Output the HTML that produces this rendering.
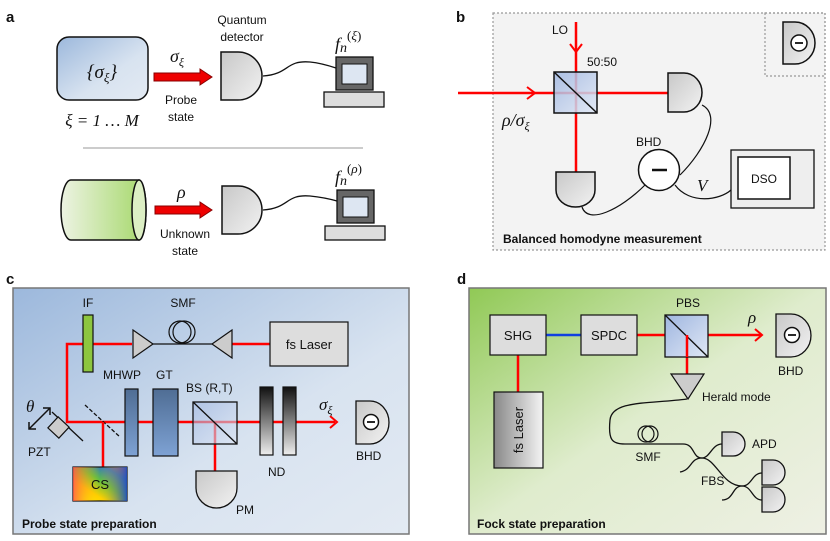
<!DOCTYPE html>
<html><head><meta charset="utf-8"><style>
html,body{margin:0;padding:0;background:#fff}
svg{display:block}
text{font-family:"Liberation Sans",sans-serif;fill:#111}
.m{font-family:"Liberation Serif",serif;font-style:italic}
.b{font-weight:bold}
</style></head><body>
<svg width="830" height="541" viewBox="0 0 830 541" xmlns="http://www.w3.org/2000/svg">
<defs>
<linearGradient id="gb" x1="0" y1="0" x2="1" y2="1"><stop offset="0" stop-color="#9cb8dc"/><stop offset="0.6" stop-color="#d8e3f0"/><stop offset="1" stop-color="#e3eaf3"/></linearGradient>
<linearGradient id="gg" x1="0" y1="0" x2="1" y2="1"><stop offset="0" stop-color="#90c955"/><stop offset="0.5" stop-color="#dfeccd"/><stop offset="1" stop-color="#eef0e4"/></linearGradient>
<linearGradient id="gc" x1="0" y1="0" x2="1" y2="0"><stop offset="0" stop-color="#edf3e3"/><stop offset="1" stop-color="#a5d86a"/></linearGradient>
<linearGradient id="gray" x1="0" y1="0" x2="1" y2="1"><stop offset="0" stop-color="#c8c8c8"/><stop offset="1" stop-color="#f2f2f2"/></linearGradient>
<linearGradient id="cube" x1="0" y1="0" x2="1" y2="1"><stop offset="0" stop-color="#9fb6e0"/><stop offset="1" stop-color="#dfe7f5"/></linearGradient>
<linearGradient id="nd" x1="0" y1="0" x2="0" y2="1"><stop offset="0" stop-color="#111"/><stop offset="1" stop-color="#eee"/></linearGradient>
<linearGradient id="wp" x1="0" y1="0" x2="0" y2="1"><stop offset="0" stop-color="#4f6d94"/><stop offset="1" stop-color="#7ea2d4"/></linearGradient>
<linearGradient id="lz" x1="0" y1="0" x2="1" y2="0"><stop offset="0" stop-color="#888"/><stop offset="1" stop-color="#f4f4f4"/></linearGradient>
<linearGradient id="rb" x1="0" y1="1" x2="1" y2="0"><stop offset="0" stop-color="#ffff00"/><stop offset="0.3" stop-color="#ffd000"/><stop offset="0.55" stop-color="#60c040"/><stop offset="0.8" stop-color="#3070d0"/><stop offset="1" stop-color="#e04080"/></linearGradient>
<linearGradient id="rb2" x1="0" y1="0" x2="1" y2="0"><stop offset="0" stop-color="#ff5050" stop-opacity=".8"/><stop offset="0.5" stop-color="#ffcc00" stop-opacity="0"/><stop offset="1" stop-color="#2050c0" stop-opacity=".9"/></linearGradient>
</defs>

<!-- Panel a -->
<text x="6" y="22" class="b" font-size="15">a</text>
<rect x="57" y="37" width="91" height="63" rx="12" fill="url(#gb)" stroke="#111" stroke-width="1.5"/>
<text x="102" y="78" text-anchor="middle" class="m" font-size="19">{σ<tspan font-size="13" dy="4">ξ</tspan><tspan dy="-4">}</tspan></text>
<text x="102" y="126" text-anchor="middle" class="m" font-size="17">ξ = 1 … M</text>
<polygon points="154,73 200,73 200,69 212,77 200,85 200,81 154,81" fill="#e00" stroke="#800" stroke-width="1"/>
<text x="170" y="62" class="m" font-size="18">σ<tspan font-size="12" dy="4">ξ</tspan></text>
<text x="181" y="104" text-anchor="middle" font-size="12">Probe</text>
<text x="181" y="121" text-anchor="middle" font-size="12">state</text>
<path d="M221,52 H238 A24,24 0 0 1 238,100 H221 Z" fill="url(#gray)" stroke="#111" stroke-width="1.5"/>
<text x="242" y="24" text-anchor="middle" font-size="12">Quantum</text>
<text x="242" y="41" text-anchor="middle" font-size="12">detector</text>
<path d="M263,76 C290,74 285,60 310,62 C320,63 330,66 336,68" fill="none" stroke="#111" stroke-width="1.3"/>
<rect x="336" y="57" width="37" height="33" fill="#666" stroke="#111" stroke-width="1.3"/>
<rect x="342" y="64" width="25" height="20" fill="#dde6f2" stroke="#111" stroke-width="1"/>
<rect x="324" y="92" width="60" height="15" fill="#ddd" stroke="#111" stroke-width="1.3"/>
<text x="335" y="50" class="m" font-size="18">f<tspan font-size="14" dy="2">n</tspan><tspan font-size="13" dy="-12" font-style="normal">(</tspan><tspan font-size="13">ξ</tspan><tspan font-size="13" font-style="normal">)</tspan></text>
<line x1="83" y1="148" x2="363" y2="148" stroke="#bbb" stroke-width="1.5"/>
<path d="M71,180 H139 A7,30 0 0 1 139,240 H71 A10,30 0 0 1 71,180 Z" fill="url(#gc)" stroke="#111" stroke-width="1.5"/>
<ellipse cx="139" cy="210" rx="7" ry="30" fill="#dcefc4" stroke="#111" stroke-width="1.5"/>
<polygon points="155,206 200,206 200,202 212,210 200,218 200,214 155,214" fill="#e00" stroke="#800" stroke-width="1"/>
<text x="177" y="198" class="m" font-size="18">ρ</text>
<text x="185" y="238" text-anchor="middle" font-size="12">Unknown</text>
<text x="185" y="255" text-anchor="middle" font-size="12">state</text>
<path d="M222,186 H238 A24,24 0 0 1 238,234 H222 Z" fill="url(#gray)" stroke="#111" stroke-width="1.5"/>
<path d="M263,210 C290,208 285,194 310,196 C320,197 330,199 337,201" fill="none" stroke="#111" stroke-width="1.3"/>
<rect x="337" y="190" width="37" height="33" fill="#666" stroke="#111" stroke-width="1.3"/>
<rect x="343" y="197" width="25" height="20" fill="#dde6f2" stroke="#111" stroke-width="1"/>
<rect x="325" y="226" width="60" height="14" fill="#ddd" stroke="#111" stroke-width="1.3"/>
<text x="335" y="183" class="m" font-size="18">f<tspan font-size="14" dy="2">n</tspan><tspan font-size="13" dy="-12" font-style="normal">(</tspan><tspan font-size="13">ρ</tspan><tspan font-size="13" font-style="normal">)</tspan></text>

<!-- Panel b -->
<text x="456" y="22" class="b" font-size="15">b</text>
<rect x="493" y="13" width="332" height="237" fill="#f3f3f3" stroke="#999" stroke-width="1.2" stroke-dasharray="2,2"/>
<rect x="765" y="13" width="60" height="63" fill="none" stroke="#999" stroke-width="1.2" stroke-dasharray="2,2"/>
<path d="M783,22 H795 A20,21 0 0 1 795,64 H783 Z" fill="url(#gray)" stroke="#111" stroke-width="1.5"/>
<circle cx="799" cy="43" r="8" fill="#fff" stroke="#111" stroke-width="1.5"/>
<line x1="795" y1="43" x2="803" y2="43" stroke="#111" stroke-width="1.8"/>
<line x1="458" y1="93" x2="668" y2="93" stroke="#f00" stroke-width="2.5"/>
<polyline points="527,87 535,93 527,99" fill="none" stroke="#f00" stroke-width="2"/>
<line x1="576" y1="22" x2="576" y2="172" stroke="#f00" stroke-width="2.5"/>
<polyline points="570,44 576,52 582,44" fill="none" stroke="#f00" stroke-width="2"/>
<rect x="554" y="72" width="43" height="41" fill="url(#cube)" stroke="#111" stroke-width="1.5" fill-opacity=".85"/>
<line x1="554" y1="72" x2="597" y2="113" stroke="#111" stroke-width="1.5"/>
<text x="552" y="34" font-size="12">LO</text>
<text x="587" y="66" font-size="12">50:50</text>
<text x="502" y="126" class="m" font-size="18">ρ/σ<tspan font-size="12" dy="4">ξ</tspan></text>
<path d="M668,73 H684 A18,19.5 0 0 1 684,112 H668 Z" fill="url(#gray)" stroke="#111" stroke-width="1.5"/>
<path d="M556,172 V190 A19.5,17 0 0 0 595,190 V172 Z" fill="url(#gray)" stroke="#111" stroke-width="1.5"/>
<path d="M702,105 C722,115 705,150 680,175" fill="none" stroke="#111" stroke-width="1.2"/>
<path d="M582,207 C588,225 620,210 645,185" fill="none" stroke="#111" stroke-width="1.2"/>
<path d="M675,185 C690,205 720,200 731,190" fill="none" stroke="#111" stroke-width="1.2"/>
<circle cx="659" cy="170" r="20.5" fill="#fff" stroke="#111" stroke-width="1.5"/>
<line x1="652" y1="170" x2="667" y2="170" stroke="#111" stroke-width="2.5"/>
<text x="636" y="146" font-size="12">BHD</text>
<text x="697" y="191" class="m" font-size="17">V</text>
<rect x="731" y="150" width="83" height="58" fill="#eee" stroke="#111" stroke-width="1.3"/>
<rect x="738" y="157" width="52" height="42" fill="#fff" stroke="#111" stroke-width="1.5"/>
<text x="764" y="183" text-anchor="middle" font-size="12">DSO</text>
<text x="503" y="243" class="b" font-size="12">Balanced homodyne measurement</text>

<!-- Panel c -->
<text x="6" y="284" class="b" font-size="15">c</text>
<rect x="13" y="288" width="396" height="246" fill="url(#gb)" stroke="#777" stroke-width="1.5"/>
<polyline points="132,344 67,344 67,422 335,422" fill="none" stroke="#f00" stroke-width="2.5"/>
<polyline points="330,416 337,422 330,428" fill="none" stroke="#f00" stroke-width="2"/>
<line x1="232" y1="344" x2="270" y2="344" stroke="#f00" stroke-width="2.5"/>
<rect x="83" y="315" width="10" height="57" fill="#8dc63f" stroke="#111" stroke-width="1.2"/>
<text x="88" y="307" text-anchor="middle" font-size="12">IF</text>
<line x1="152" y1="344" x2="212" y2="344" stroke="#111" stroke-width="1.2"/>
<circle cx="180" cy="332" r="11" fill="none" stroke="#111" stroke-width="1.2"/>
<circle cx="184" cy="332" r="11" fill="none" stroke="#111" stroke-width="1.2"/>
<polygon points="133,330 153,344 133,358" fill="#ccc" stroke="#111" stroke-width="1.2"/>
<polygon points="232,330 212,344 232,358" fill="#ccc" stroke="#111" stroke-width="1.2"/>
<text x="183" y="307" text-anchor="middle" font-size="12">SMF</text>
<rect x="270" y="322" width="78" height="44" fill="url(#lz)" stroke="#111" stroke-width="1.2" style="fill:#ddd"/>
<text x="309" y="349" text-anchor="middle" font-size="13">fs Laser</text>
<line x1="52" y1="412" x2="83" y2="441" stroke="#111" stroke-width="1.3"/>
<rect x="51" y="420" width="15" height="15" fill="#ccc" stroke="#111" stroke-width="1.2" transform="rotate(43 58.5 427.5)"/>
<line x1="29" y1="429" x2="50" y2="408" stroke="#111" stroke-width="1.5"/>
<polyline points="29,422 29,429 36,429" fill="none" stroke="#111" stroke-width="1.5"/>
<polyline points="43,408 50,408 50,415" fill="none" stroke="#111" stroke-width="1.5"/>
<text x="26" y="412" class="m" font-size="17">θ</text>
<text x="28" y="456" font-size="12">PZT</text>
<line x1="85" y1="405" x2="120" y2="437" stroke="#111" stroke-width="1.3" stroke-dasharray="4,2"/>
<line x1="103" y1="422" x2="103" y2="467" stroke="#f00" stroke-width="2.5"/>
<rect x="73" y="467" width="54" height="34" fill="url(#rb)" stroke="#111" stroke-width="1.2"/>
<rect x="73" y="467" width="54" height="34" fill="url(#rb2)"/>
<text x="100" y="489" text-anchor="middle" font-size="13">CS</text>
<rect x="125" y="389" width="13" height="67" fill="url(#wp)" stroke="#111" stroke-width="1.2"/>
<rect x="153" y="389" width="25" height="67" fill="url(#wp)" stroke="#111" stroke-width="1.2"/>
<text x="103" y="379" font-size="12">MHWP</text>
<text x="156" y="379" font-size="12">GT</text>
<line x1="215" y1="422" x2="215" y2="472" stroke="#f00" stroke-width="2.5"/>
<rect x="193" y="402" width="44" height="42" fill="url(#cube)" fill-opacity=".6" stroke="#111" stroke-width="1.3"/>
<line x1="193" y1="402" x2="237" y2="444" stroke="#111" stroke-width="1.3"/>
<text x="186" y="392" font-size="12">BS (R,T)</text>
<path d="M196,471 V488 A20.5,20 0 0 0 237,488 V471 Z" fill="url(#gray)" stroke="#111" stroke-width="1.3"/>
<text x="236" y="514" font-size="12">PM</text>
<rect x="260" y="387" width="13" height="68" fill="url(#nd)" stroke="#111" stroke-width="1.2"/>
<rect x="283" y="387" width="13" height="68" fill="url(#nd)" stroke="#111" stroke-width="1.2"/>
<text x="268" y="476" font-size="12">ND</text>
<text x="319" y="410" class="m" font-size="17">σ<tspan font-size="12" dy="4">ξ</tspan></text>
<path d="M356,401 H370 A19,21.5 0 0 1 370,444 H356 Z" fill="url(#gray)" stroke="#111" stroke-width="1.3"/>
<circle cx="371" cy="422" r="7.5" fill="#fff" stroke="#111" stroke-width="1.5"/>
<line x1="367" y1="422" x2="375" y2="422" stroke="#111" stroke-width="1.8"/>
<text x="356" y="460" font-size="12">BHD</text>
<text x="22" y="528" class="b" font-size="12">Probe state preparation</text>

<!-- Panel d -->
<text x="457" y="284" class="b" font-size="15">d</text>
<rect x="469" y="288" width="357" height="246" fill="url(#gg)" stroke="#777" stroke-width="1.5"/>
<line x1="546" y1="335" x2="581" y2="335" stroke="#1040e0" stroke-width="2.5"/>
<line x1="637" y1="335" x2="762" y2="335" stroke="#f00" stroke-width="2.5"/>
<polyline points="755,329 762,335 755,341" fill="none" stroke="#f00" stroke-width="2"/>
<line x1="687" y1="335" x2="687" y2="374" stroke="#f00" stroke-width="2.5"/>
<line x1="518" y1="355" x2="518" y2="392" stroke="#f00" stroke-width="2.5"/>
<rect x="490" y="315" width="56" height="40" fill="#ddd" stroke="#111" stroke-width="1.2"/>
<text x="518" y="340" text-anchor="middle" font-size="13">SHG</text>
<rect x="581" y="315" width="56" height="40" fill="#ddd" stroke="#111" stroke-width="1.2"/>
<text x="609" y="340" text-anchor="middle" font-size="13">SPDC</text>
<rect x="665" y="315" width="43" height="42" fill="url(#cube)" stroke="#111" stroke-width="1.3"/>
<line x1="665" y1="315" x2="708" y2="357" stroke="#111" stroke-width="1.3"/>
<line x1="687" y1="335" x2="687" y2="357" stroke="#f00" stroke-width="2.5"/>
<text x="688" y="307" text-anchor="middle" font-size="12">PBS</text>
<text x="748" y="323" class="m" font-size="17">ρ</text>
<path d="M776,314 H791 A20,21.5 0 0 1 791,357 H776 Z" fill="url(#gray)" stroke="#111" stroke-width="1.3"/>
<circle cx="792" cy="335" r="7.5" fill="#fff" stroke="#111" stroke-width="1.5"/>
<line x1="788" y1="335" x2="796" y2="335" stroke="#111" stroke-width="1.8"/>
<text x="778" y="375" font-size="12">BHD</text>
<polygon points="671,374 704,374 688,399" fill="#ccc" stroke="#111" stroke-width="1.2"/>
<text x="702" y="401" font-size="12">Herald mode</text>
<rect x="494" y="392" width="49" height="76" fill="url(#lz)" stroke="#111" stroke-width="1.2"/>
<text x="0" y="0" font-size="13" text-anchor="middle" transform="translate(523,430) rotate(-90)">fs Laser</text>
<path d="M687,399 C650,404 612,400 610,420 C608,440 612,444 625,444 L683,444 C695,444 692,458 702,458 C710,458 712,444 722,444" fill="none" stroke="#111" stroke-width="1.3"/>
<path d="M680,472 C692,470 690,458 702,458 C716,458 722,486 742,486 C752,486 752,473 762,473" fill="none" stroke="#111" stroke-width="1.3"/>
<path d="M722,500 C734,500 732,486 742,486 C752,486 752,500 762,500" fill="none" stroke="#111" stroke-width="1.3"/>
<circle cx="646" cy="434" r="8" fill="none" stroke="#111" stroke-width="1.2"/>
<circle cx="650" cy="434" r="8" fill="none" stroke="#111" stroke-width="1.2"/>
<text x="648" y="461" text-anchor="middle" font-size="12">SMF</text>
<text x="701" y="485" font-size="12">FBS</text>
<path d="M722,432 H733 A12,12 0 0 1 733,456 H722 Z" fill="url(#gray)" stroke="#111" stroke-width="1.3"/>
<text x="752" y="448" font-size="12">APD</text>
<path d="M762,460 H773 A12,12.5 0 0 1 773,485 H762 Z" fill="url(#gray)" stroke="#111" stroke-width="1.3"/>
<path d="M762,487 H773 A12,12.5 0 0 1 773,512 H762 Z" fill="url(#gray)" stroke="#111" stroke-width="1.3"/>
<text x="477" y="528" class="b" font-size="12">Fock state preparation</text>
</svg>
</body></html>
